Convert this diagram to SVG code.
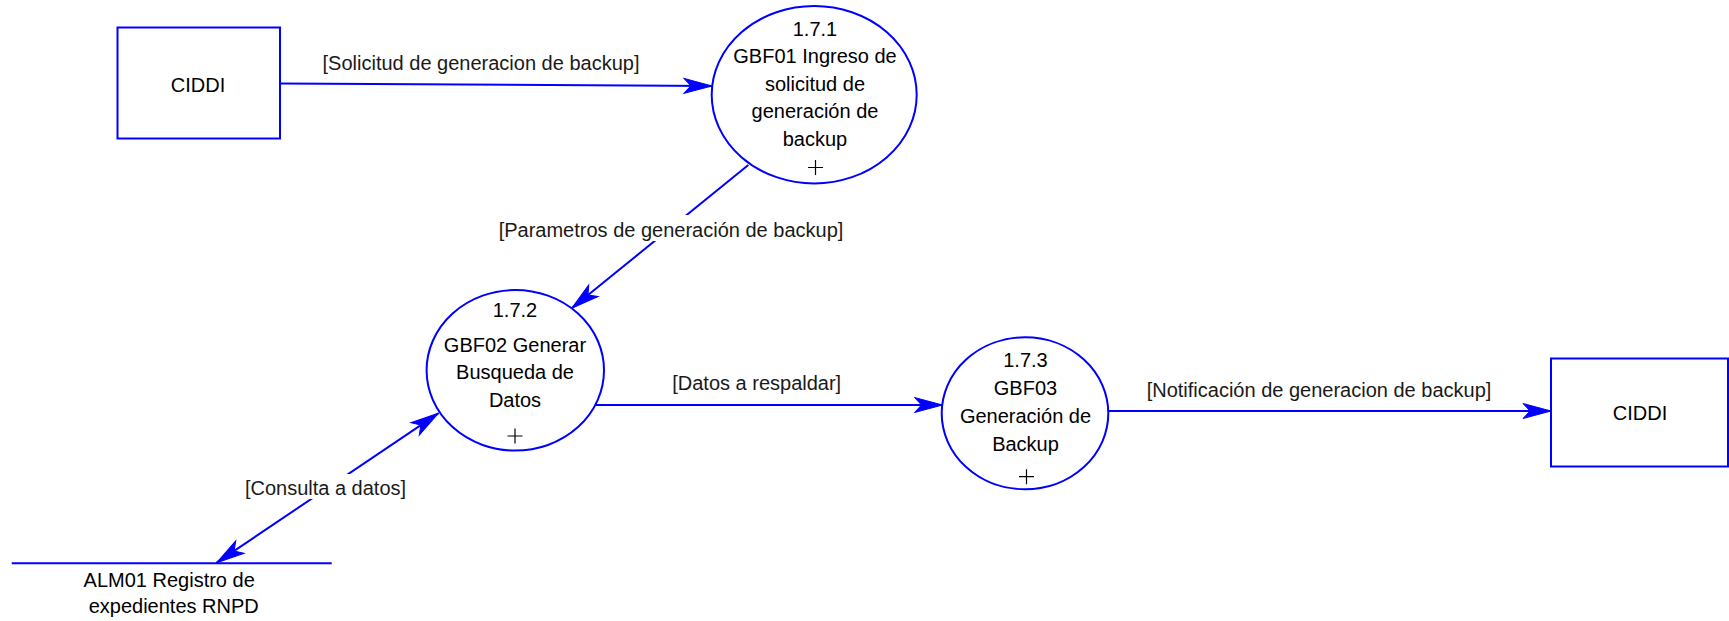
<svg xmlns="http://www.w3.org/2000/svg" width="1729" height="621" viewBox="0 0 1729 621">
<style>
  .shape { fill: #ffffff; stroke: #0000ff; stroke-width: 2; }
  .flow { fill: none; stroke: #0000ff; stroke-width: 2; }
  .txt { font-family: "Liberation Sans", Arial, sans-serif; font-size: 20px; fill: #000000; text-anchor: middle; }
  .lbl { font-family: "Liberation Sans", Arial, sans-serif; font-size: 20px; fill: #1a1a1a; text-anchor: middle; }
  .bg { fill: #ffffff; stroke: none; }
  .plus { stroke: #000000; stroke-width: 1.2; fill: none; }
</style>
<defs>
  <marker id="arrow" viewBox="-30 -10 32 20" refX="0" refY="0" markerWidth="32" markerHeight="20" markerUnits="userSpaceOnUse" orient="auto-start-reverse">
    <path d="M0,0 L-28,-7.5 L-21,0 L-28,7.5 Z" fill="#0000ff" stroke="#0000ff" stroke-width="1"/>
  </marker>
</defs>
<rect width="1729" height="621" fill="#ffffff"/>

<g id="connectors">
  <path class="flow" d="M280,83.5 L712,86" marker-end="url(#arrow)"/>
  <text class="lbl" x="481" y="70">[Solicitud de generacion de backup]</text>

  <path class="flow" d="M748.3,165 L571.7,308.3" marker-end="url(#arrow)"/>
  <rect class="bg" x="497" y="215" width="348" height="26"/>
  <text class="lbl" x="671" y="237.3">[Parametros de generación de backup]</text>

  <path class="flow" d="M595.3,405 L942.5,405" marker-end="url(#arrow)"/>
  <text class="lbl" x="756.7" y="390">[Datos a respaldar]</text>

  <path class="flow" d="M1108.3,411 L1551,411" marker-end="url(#arrow)"/>
  <text class="lbl" x="1319" y="396.7">[Notificación de generacion de backup]</text>

  <path class="flow" d="M216.7,562.7 L438.3,413.3" marker-start="url(#arrow)" marker-end="url(#arrow)"/>
  <rect class="bg" x="244" y="474" width="163" height="25"/>
  <text class="lbl" x="325.5" y="495">[Consulta a datos]</text>
</g>

<g id="ciddi-1">
  <rect class="shape" x="117.5" y="27.5" width="162.5" height="111"/>
  <text class="txt" x="198" y="91.5">CIDDI</text>
</g>

<g id="p171">
  <ellipse class="shape" cx="814.2" cy="94.7" rx="102.5" ry="88.7"/>
  <text class="txt" x="815" y="36">1.7.1</text>
  <text class="txt" x="815" y="63.3">GBF01 Ingreso de</text>
  <text class="txt" x="815" y="90.7">solicitud de</text>
  <text class="txt" x="815" y="118.3">generación de</text>
  <text class="txt" x="815" y="145.7">backup</text>
  <path class="plus" d="M808,167.5 H823 M815.5,160 V175"/>
</g>

<g id="p172">
  <ellipse class="shape" cx="515.3" cy="370.3" rx="88.7" ry="80.3"/>
  <text class="txt" x="515" y="317.3">1.7.2</text>
  <text class="txt" x="515" y="351.7">GBF02 Generar</text>
  <text class="txt" x="515" y="379">Busqueda de</text>
  <text class="txt" x="515" y="406.7">Datos</text>
  <path class="plus" d="M507.5,436 H522.5 M515,428.5 V443.5"/>
</g>

<g id="p173">
  <ellipse class="shape" cx="1025" cy="413.3" rx="83.3" ry="76"/>
  <text class="txt" x="1025.5" y="366.7">1.7.3</text>
  <text class="txt" x="1025.5" y="395">GBF03</text>
  <text class="txt" x="1025.5" y="423.3">Generación de</text>
  <text class="txt" x="1025.5" y="450.7">Backup</text>
  <path class="plus" d="M1019,476.7 H1034 M1026.5,469.2 V484.2"/>
</g>

<g id="ciddi-2">
  <rect class="shape" x="1551" y="358.5" width="177" height="108"/>
  <text class="txt" x="1640" y="420">CIDDI</text>
</g>

<g id="alm01">
  <line class="flow" x1="11.7" y1="563.3" x2="331.7" y2="563.3"/>
  <text class="txt" x="169.2" y="586.7">ALM01 Registro de</text>
  <text class="txt" x="173.7" y="612.7">expedientes RNPD</text>
</g>
</svg>
